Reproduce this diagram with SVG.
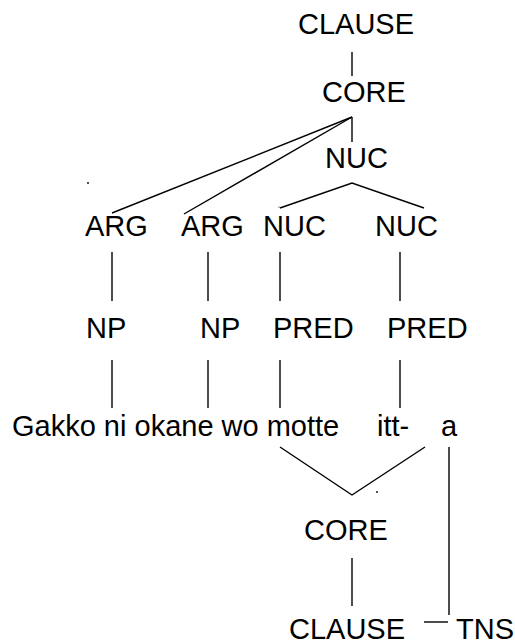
<svg xmlns="http://www.w3.org/2000/svg" width="515" height="644" viewBox="0 0 515 644">
<style>
text{font-family:"Liberation Sans",Arial,sans-serif;font-size:29px;fill:#000}
.c line,.c polyline{stroke:#000;stroke-width:1.4;fill:none}
.d{fill:#000}
</style>
<rect width="515" height="644" fill="#fff"/>
<g class="c" id="connectors">
<line x1="352" y1="52" x2="352" y2="76"/>
<line x1="352" y1="117" x2="112" y2="213"/>
<line x1="352" y1="117" x2="184" y2="214"/>
<line x1="352" y1="117" x2="352" y2="142"/>
<polyline points="280,208 352,183 424,208"/>
<line x1="112" y1="252" x2="112" y2="301"/>
<line x1="208" y1="252" x2="208" y2="301"/>
<line x1="280" y1="252" x2="280" y2="301"/>
<line x1="400" y1="252" x2="400" y2="301"/>
<line x1="112" y1="360" x2="112" y2="408"/>
<line x1="208" y1="360" x2="208" y2="408"/>
<line x1="280" y1="360" x2="280" y2="408"/>
<line x1="400" y1="360" x2="400" y2="408"/>
<polyline points="280,447 352,495 425,447"/>
<line x1="449" y1="447" x2="449" y2="615"/>
<line x1="352" y1="558" x2="352" y2="606"/>
<line x1="424" y1="622" x2="448" y2="622"/>
</g>
<g id="dots">
<circle class="d" cx="88" cy="183" r="0.9"/>
<circle class="d" cx="279" cy="207" r="0.6"/>
<circle class="d" cx="377" cy="492" r="0.9"/>
</g>
<g id="clause-top"><text x="298" y="34">CLAUSE</text></g>
<g id="core-top"><text x="322" y="102">CORE</text></g>
<g id="nuc-top"><text x="325" y="168">NUC</text></g>
<g id="arg1"><text x="85" y="236">ARG</text></g>
<g id="arg2"><text x="181" y="236">ARG</text></g>
<g id="nuc1"><text x="263" y="236">NUC</text></g>
<g id="nuc2"><text x="375" y="236">NUC</text></g>
<g id="np1"><text x="86" y="338">NP</text></g>
<g id="np2"><text x="200" y="338">NP</text></g>
<g id="pred1"><text x="273" y="338">PRED</text></g>
<g id="pred2"><text x="387" y="338">PRED</text></g>
<g id="words"><text x="12" y="436">Gakko ni okane wo motte</text></g>
<g id="itt"><text x="377" y="436">itt-</text></g>
<g id="a"><text x="441" y="436">a</text></g>
<g id="core-bottom"><text x="304" y="540">CORE</text></g>
<g id="clause-bottom"><text x="289" y="639">CLAUSE</text></g>
<g id="tns"><text x="456" y="639">TNS</text></g>
</svg>
